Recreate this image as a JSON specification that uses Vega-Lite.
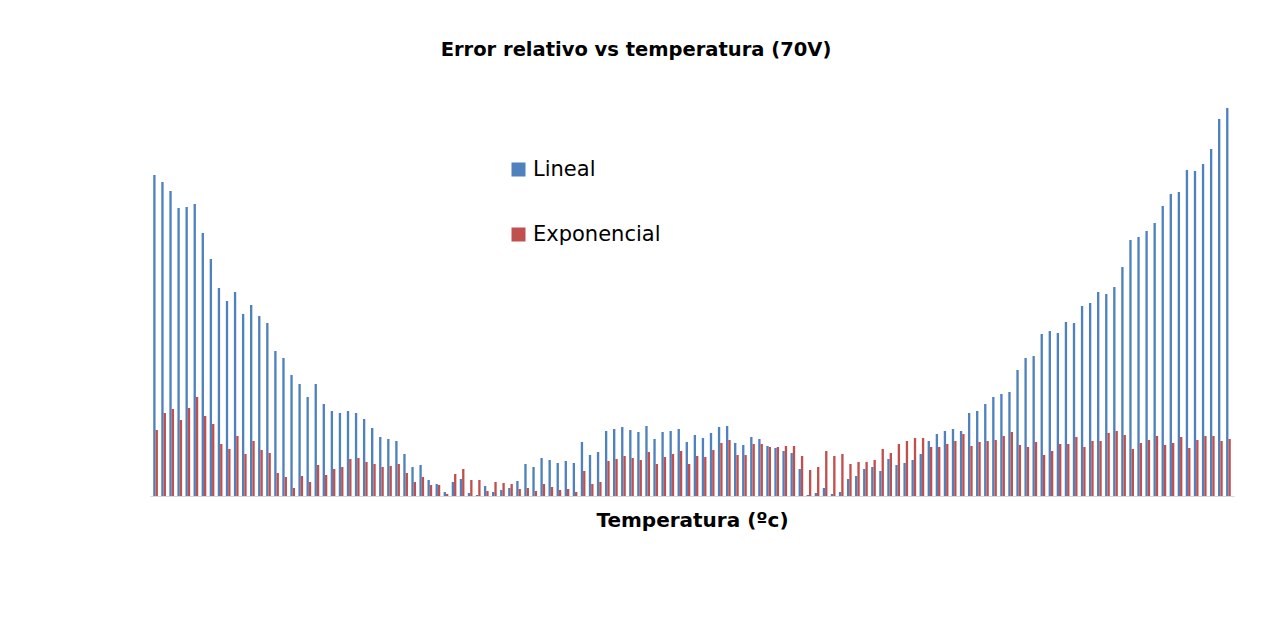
{
  "$schema": "https://vega.github.io/schema/vega-lite/v6.json",
  "autosize": {"type": "none"},
  "width": 1084,
  "height": 400,
  "padding": {"left": 150, "top": 96, "right": 28, "bottom": 130},
  "background": "white",
  "title": {
    "text": "Error relativo vs temperatura (70V)",
    "font": "DejaVu Sans",
    "fontSize": 19.5,
    "fontWeight": "bold",
    "color": "#000000",
    "anchor": "middle",
    "dx": -56,
    "offset": 36
  },
  "config": {
    "view": {"stroke": null},
    "font": "DejaVu Sans"
  },
  "data": {
    "values": [
{"i":0,"serie":"Lineal","v":321},{"i":0,"serie":"Exponencial","v":66},
{"i":1,"serie":"Lineal","v":314},{"i":1,"serie":"Exponencial","v":83},
{"i":2,"serie":"Lineal","v":305},{"i":2,"serie":"Exponencial","v":87},
{"i":3,"serie":"Lineal","v":288},{"i":3,"serie":"Exponencial","v":76},
{"i":4,"serie":"Lineal","v":289},{"i":4,"serie":"Exponencial","v":88},
{"i":5,"serie":"Lineal","v":292},{"i":5,"serie":"Exponencial","v":99},
{"i":6,"serie":"Lineal","v":263},{"i":6,"serie":"Exponencial","v":80},
{"i":7,"serie":"Lineal","v":237},{"i":7,"serie":"Exponencial","v":72},
{"i":8,"serie":"Lineal","v":208},{"i":8,"serie":"Exponencial","v":52},
{"i":9,"serie":"Lineal","v":195},{"i":9,"serie":"Exponencial","v":47},
{"i":10,"serie":"Lineal","v":204},{"i":10,"serie":"Exponencial","v":60},
{"i":11,"serie":"Lineal","v":182},{"i":11,"serie":"Exponencial","v":42},
{"i":12,"serie":"Lineal","v":191},{"i":12,"serie":"Exponencial","v":55},
{"i":13,"serie":"Lineal","v":180},{"i":13,"serie":"Exponencial","v":46},
{"i":14,"serie":"Lineal","v":173},{"i":14,"serie":"Exponencial","v":43},
{"i":15,"serie":"Lineal","v":145},{"i":15,"serie":"Exponencial","v":23},
{"i":16,"serie":"Lineal","v":138},{"i":16,"serie":"Exponencial","v":19},
{"i":17,"serie":"Lineal","v":121},{"i":17,"serie":"Exponencial","v":8},
{"i":18,"serie":"Lineal","v":112},{"i":18,"serie":"Exponencial","v":20},
{"i":19,"serie":"Lineal","v":99},{"i":19,"serie":"Exponencial","v":14},
{"i":20,"serie":"Lineal","v":112},{"i":20,"serie":"Exponencial","v":31},
{"i":21,"serie":"Lineal","v":92},{"i":21,"serie":"Exponencial","v":21},
{"i":22,"serie":"Lineal","v":85},{"i":22,"serie":"Exponencial","v":27},
{"i":23,"serie":"Lineal","v":83},{"i":23,"serie":"Exponencial","v":29},
{"i":24,"serie":"Lineal","v":85},{"i":24,"serie":"Exponencial","v":37},
{"i":25,"serie":"Lineal","v":83},{"i":25,"serie":"Exponencial","v":38},
{"i":26,"serie":"Lineal","v":77},{"i":26,"serie":"Exponencial","v":34},
{"i":27,"serie":"Lineal","v":68},{"i":27,"serie":"Exponencial","v":32},
{"i":28,"serie":"Lineal","v":59},{"i":28,"serie":"Exponencial","v":29},
{"i":29,"serie":"Lineal","v":57},{"i":29,"serie":"Exponencial","v":30},
{"i":30,"serie":"Lineal","v":55},{"i":30,"serie":"Exponencial","v":32},
{"i":31,"serie":"Lineal","v":42},{"i":31,"serie":"Exponencial","v":23},
{"i":32,"serie":"Lineal","v":29},{"i":32,"serie":"Exponencial","v":14},
{"i":33,"serie":"Lineal","v":31},{"i":33,"serie":"Exponencial","v":19},
{"i":34,"serie":"Lineal","v":16},{"i":34,"serie":"Exponencial","v":11},
{"i":35,"serie":"Lineal","v":12},{"i":35,"serie":"Exponencial","v":11},
{"i":36,"serie":"Lineal","v":4},{"i":36,"serie":"Exponencial","v":2},
{"i":37,"serie":"Lineal","v":14},{"i":37,"serie":"Exponencial","v":22},
{"i":38,"serie":"Lineal","v":17},{"i":38,"serie":"Exponencial","v":27},
{"i":39,"serie":"Lineal","v":3},{"i":39,"serie":"Exponencial","v":16},
{"i":40,"serie":"Lineal","v":1},{"i":40,"serie":"Exponencial","v":16},
{"i":41,"serie":"Lineal","v":10},{"i":41,"serie":"Exponencial","v":5},
{"i":42,"serie":"Lineal","v":4},{"i":42,"serie":"Exponencial","v":14},
{"i":43,"serie":"Lineal","v":6},{"i":43,"serie":"Exponencial","v":13},
{"i":44,"serie":"Lineal","v":8},{"i":44,"serie":"Exponencial","v":12},
{"i":45,"serie":"Lineal","v":15},{"i":45,"serie":"Exponencial","v":7},
{"i":46,"serie":"Lineal","v":32},{"i":46,"serie":"Exponencial","v":8},
{"i":47,"serie":"Lineal","v":29},{"i":47,"serie":"Exponencial","v":5},
{"i":48,"serie":"Lineal","v":38},{"i":48,"serie":"Exponencial","v":12},
{"i":49,"serie":"Lineal","v":36},{"i":49,"serie":"Exponencial","v":9},
{"i":50,"serie":"Lineal","v":33},{"i":50,"serie":"Exponencial","v":6},
{"i":51,"serie":"Lineal","v":35},{"i":51,"serie":"Exponencial","v":7},
{"i":52,"serie":"Lineal","v":33},{"i":52,"serie":"Exponencial","v":4},
{"i":53,"serie":"Lineal","v":54},{"i":53,"serie":"Exponencial","v":25},
{"i":54,"serie":"Lineal","v":41},{"i":54,"serie":"Exponencial","v":12},
{"i":55,"serie":"Lineal","v":44},{"i":55,"serie":"Exponencial","v":14},
{"i":56,"serie":"Lineal","v":65},{"i":56,"serie":"Exponencial","v":35},
{"i":57,"serie":"Lineal","v":67},{"i":57,"serie":"Exponencial","v":37},
{"i":58,"serie":"Lineal","v":69},{"i":58,"serie":"Exponencial","v":40},
{"i":59,"serie":"Lineal","v":66},{"i":59,"serie":"Exponencial","v":38},
{"i":60,"serie":"Lineal","v":64},{"i":60,"serie":"Exponencial","v":36},
{"i":61,"serie":"Lineal","v":70},{"i":61,"serie":"Exponencial","v":44},
{"i":62,"serie":"Lineal","v":57},{"i":62,"serie":"Exponencial","v":32},
{"i":63,"serie":"Lineal","v":64},{"i":63,"serie":"Exponencial","v":39},
{"i":64,"serie":"Lineal","v":65},{"i":64,"serie":"Exponencial","v":42},
{"i":65,"serie":"Lineal","v":67},{"i":65,"serie":"Exponencial","v":45},
{"i":66,"serie":"Lineal","v":54},{"i":66,"serie":"Exponencial","v":32},
{"i":67,"serie":"Lineal","v":61},{"i":67,"serie":"Exponencial","v":40},
{"i":68,"serie":"Lineal","v":58},{"i":68,"serie":"Exponencial","v":39},
{"i":69,"serie":"Lineal","v":63},{"i":69,"serie":"Exponencial","v":46},
{"i":70,"serie":"Lineal","v":69},{"i":70,"serie":"Exponencial","v":53},
{"i":71,"serie":"Lineal","v":70},{"i":71,"serie":"Exponencial","v":56},
{"i":72,"serie":"Lineal","v":53},{"i":72,"serie":"Exponencial","v":41},
{"i":73,"serie":"Lineal","v":51},{"i":73,"serie":"Exponencial","v":41},
{"i":74,"serie":"Lineal","v":59},{"i":74,"serie":"Exponencial","v":52},
{"i":75,"serie":"Lineal","v":57},{"i":75,"serie":"Exponencial","v":52},
{"i":76,"serie":"Lineal","v":50},{"i":76,"serie":"Exponencial","v":49},
{"i":77,"serie":"Lineal","v":48},{"i":77,"serie":"Exponencial","v":49},
{"i":78,"serie":"Lineal","v":45},{"i":78,"serie":"Exponencial","v":50},
{"i":79,"serie":"Lineal","v":43},{"i":79,"serie":"Exponencial","v":50},
{"i":80,"serie":"Lineal","v":27},{"i":80,"serie":"Exponencial","v":40},
{"i":81,"serie":"Lineal","v":1},{"i":81,"serie":"Exponencial","v":26},
{"i":82,"serie":"Lineal","v":3},{"i":82,"serie":"Exponencial","v":29},
{"i":83,"serie":"Lineal","v":8},{"i":83,"serie":"Exponencial","v":45},
{"i":84,"serie":"Lineal","v":2},{"i":84,"serie":"Exponencial","v":40},
{"i":85,"serie":"Lineal","v":4},{"i":85,"serie":"Exponencial","v":42},
{"i":86,"serie":"Lineal","v":17},{"i":86,"serie":"Exponencial","v":32},
{"i":87,"serie":"Lineal","v":20},{"i":87,"serie":"Exponencial","v":34},
{"i":88,"serie":"Lineal","v":27},{"i":88,"serie":"Exponencial","v":34},
{"i":89,"serie":"Lineal","v":29},{"i":89,"serie":"Exponencial","v":36},
{"i":90,"serie":"Lineal","v":25},{"i":90,"serie":"Exponencial","v":47},
{"i":91,"serie":"Lineal","v":37},{"i":91,"serie":"Exponencial","v":43},
{"i":92,"serie":"Lineal","v":31},{"i":92,"serie":"Exponencial","v":52},
{"i":93,"serie":"Lineal","v":33},{"i":93,"serie":"Exponencial","v":55},
{"i":94,"serie":"Lineal","v":36},{"i":94,"serie":"Exponencial","v":58},
{"i":95,"serie":"Lineal","v":42},{"i":95,"serie":"Exponencial","v":58},
{"i":96,"serie":"Lineal","v":55},{"i":96,"serie":"Exponencial","v":49},
{"i":97,"serie":"Lineal","v":62},{"i":97,"serie":"Exponencial","v":49},
{"i":98,"serie":"Lineal","v":65},{"i":98,"serie":"Exponencial","v":52},
{"i":99,"serie":"Lineal","v":67},{"i":99,"serie":"Exponencial","v":55},
{"i":100,"serie":"Lineal","v":65},{"i":100,"serie":"Exponencial","v":62},
{"i":101,"serie":"Lineal","v":83},{"i":101,"serie":"Exponencial","v":50},
{"i":102,"serie":"Lineal","v":85},{"i":102,"serie":"Exponencial","v":54},
{"i":103,"serie":"Lineal","v":92},{"i":103,"serie":"Exponencial","v":55},
{"i":104,"serie":"Lineal","v":99},{"i":104,"serie":"Exponencial","v":56},
{"i":105,"serie":"Lineal","v":102},{"i":105,"serie":"Exponencial","v":60},
{"i":106,"serie":"Lineal","v":104},{"i":106,"serie":"Exponencial","v":64},
{"i":107,"serie":"Lineal","v":126},{"i":107,"serie":"Exponencial","v":51},
{"i":108,"serie":"Lineal","v":138},{"i":108,"serie":"Exponencial","v":49},
{"i":109,"serie":"Lineal","v":140},{"i":109,"serie":"Exponencial","v":54},
{"i":110,"serie":"Lineal","v":162},{"i":110,"serie":"Exponencial","v":41},
{"i":111,"serie":"Lineal","v":165},{"i":111,"serie":"Exponencial","v":45},
{"i":112,"serie":"Lineal","v":163},{"i":112,"serie":"Exponencial","v":52},
{"i":113,"serie":"Lineal","v":174},{"i":113,"serie":"Exponencial","v":52},
{"i":114,"serie":"Lineal","v":173},{"i":114,"serie":"Exponencial","v":59},
{"i":115,"serie":"Lineal","v":190},{"i":115,"serie":"Exponencial","v":49},
{"i":116,"serie":"Lineal","v":193},{"i":116,"serie":"Exponencial","v":55},
{"i":117,"serie":"Lineal","v":204},{"i":117,"serie":"Exponencial","v":55},
{"i":118,"serie":"Lineal","v":202},{"i":118,"serie":"Exponencial","v":63},
{"i":119,"serie":"Lineal","v":209},{"i":119,"serie":"Exponencial","v":65},
{"i":120,"serie":"Lineal","v":229},{"i":120,"serie":"Exponencial","v":61},
{"i":121,"serie":"Lineal","v":256},{"i":121,"serie":"Exponencial","v":47},
{"i":122,"serie":"Lineal","v":259},{"i":122,"serie":"Exponencial","v":53},
{"i":123,"serie":"Lineal","v":265},{"i":123,"serie":"Exponencial","v":56},
{"i":124,"serie":"Lineal","v":273},{"i":124,"serie":"Exponencial","v":60},
{"i":125,"serie":"Lineal","v":290},{"i":125,"serie":"Exponencial","v":51},
{"i":126,"serie":"Lineal","v":302},{"i":126,"serie":"Exponencial","v":53},
{"i":127,"serie":"Lineal","v":304},{"i":127,"serie":"Exponencial","v":59},
{"i":128,"serie":"Lineal","v":326},{"i":128,"serie":"Exponencial","v":48},
{"i":129,"serie":"Lineal","v":325},{"i":129,"serie":"Exponencial","v":56},
{"i":130,"serie":"Lineal","v":332},{"i":130,"serie":"Exponencial","v":60},
{"i":131,"serie":"Lineal","v":347},{"i":131,"serie":"Exponencial","v":60},
{"i":132,"serie":"Lineal","v":377},{"i":132,"serie":"Exponencial","v":55},
{"i":133,"serie":"Lineal","v":388},{"i":133,"serie":"Exponencial","v":57}
    ]
  },
  "mark": {"type": "bar"},
  "encoding": {
    "x": {
      "field": "i",
      "type": "ordinal",
      "scale": {"paddingInner": 0.42, "paddingOuter": 0.4},
      "axis": {
        "title": "Temperatura (ºc)",
        "titleFont": "DejaVu Sans",
        "titleFontSize": 20,
        "titleFontWeight": "bold",
        "titleColor": "#000000",
        "titlePadding": 14,
        "labels": false,
        "ticks": false,
        "domain": true,
        "domainColor": "#D9D9D9",
        "domainWidth": 1
      }
    },
    "xOffset": {
      "field": "serie",
      "type": "nominal",
      "sort": ["Lineal", "Exponencial"]
    },
    "y": {
      "field": "v",
      "type": "quantitative",
      "scale": {"domain": [0, 400], "nice": false},
      "axis": null
    },
    "color": {
      "field": "serie",
      "type": "nominal",
      "sort": ["Lineal", "Exponencial"],
      "scale": {"domain": ["Lineal", "Exponencial"], "range": ["#4F81BD", "#C0504D"]},
      "legend": {
        "title": null,
        "orient": "none",
        "legendX": 358,
        "legendY": 63,
        "symbolType": "square",
        "symbolSize": 196,
        "symbolStrokeWidth": 0,
        "symbolOpacity": 1,
        "labelFont": "DejaVu Sans",
        "labelFontSize": 21,
        "labelColor": "#000000",
        "labelOffset": 4,
        "rowPadding": 43,
        "padding": 0
      }
    }
  }
}
